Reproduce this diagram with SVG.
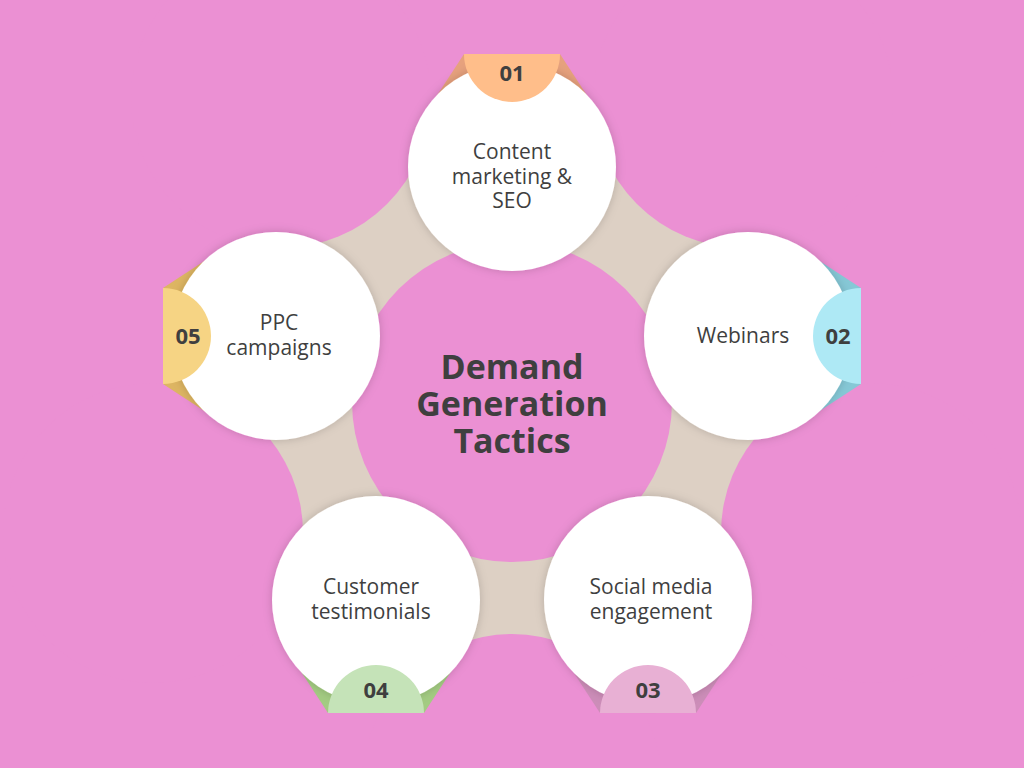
<svg xmlns="http://www.w3.org/2000/svg" width="1024" height="768" viewBox="0 0 1024 768">
<defs>
<style>
.bg{fill:#EB90D3}
.ring{fill:#DDD0C4}
.hole{fill:#EB90D3}
.node{fill:#FFFFFF;filter:url(#sh)}
.lbl{font-family:"Open Sans","Noto Sans",sans-serif;font-size:21px;fill:#3F3F3F;text-anchor:middle}
.num{font-family:"Open Sans","Noto Sans",sans-serif;font-size:22px;font-weight:bold;fill:#3F3F3F;text-anchor:middle}
.title{font-family:"Open Sans","Noto Sans",sans-serif;font-size:34px;font-weight:bold;fill:#3F3F3F;text-anchor:middle}
</style>
<filter id="sh" x="-20%" y="-20%" width="140%" height="140%">
<feDropShadow dx="0" dy="0" stdDeviation="5" flood-color="#000" flood-opacity="0.18"/>
</filter>
<polygon id="trap" points="-48,-113 48,-113 78,-67 -78,-67"/>
<path id="semi" d="M-48,-113 A48,48 0 0 0 48,-113 Z"/>
</defs>
<rect class="bg" x="0" y="0" width="1024" height="768"/>
<g id="connectors">
<circle class="ring" cx="512" cy="402" r="272"/>
<circle class="hole" cx="512" cy="402" r="160"/>
<circle class="hole" cx="743" cy="98" r="150"/>
<circle class="hole" cx="871" cy="533" r="150"/>
<circle class="hole" cx="512" cy="784" r="150"/>
<circle class="hole" cx="153" cy="533" r="150"/>
<circle class="hole" cx="281" cy="98" r="150"/>
</g>
<g id="title">
<text class="title" x="512" y="379">Demand</text>
<text class="title" x="512" y="416">Generation</text>
<text class="title" x="512" y="453">Tactics</text>
</g>
<g id="node1" transform="translate(512,167)">
<use href="#trap" fill="#E6A17D"/>
<circle class="node" cx="0" cy="0" r="104"/>
<use href="#semi" fill="#FFBE8A"/>
<text class="num" x="0" y="-86">01</text>
<text class="lbl" x="0" y="-8">Content</text>
<text class="lbl" x="0" y="17">marketing &amp;</text>
<text class="lbl" x="0" y="41">SEO</text>
</g>
<g id="node2" transform="translate(748,336)">
<use href="#trap" fill="#86C8D6" transform="rotate(90)"/>
<circle class="node" cx="0" cy="0" r="104"/>
<use href="#semi" fill="#AEE9F5" transform="rotate(90)"/>
<text class="num" x="90" y="8">02</text>
<text class="lbl" x="-5" y="7">Webinars</text>
</g>
<g id="node3" transform="translate(648,600)">
<use href="#trap" fill="#CC8DB8" transform="rotate(180)"/>
<circle class="node" cx="0" cy="0" r="104"/>
<use href="#semi" fill="#E8B0D4" transform="rotate(180)"/>
<text class="num" x="0" y="98">03</text>
<text class="lbl" x="3" y="-6">Social media</text>
<text class="lbl" x="3" y="19">engagement</text>
</g>
<g id="node4" transform="translate(376,600)">
<use href="#trap" fill="#A3CB82" transform="rotate(180)"/>
<circle class="node" cx="0" cy="0" r="104"/>
<use href="#semi" fill="#C5E3B8" transform="rotate(180)"/>
<text class="num" x="0" y="98">04</text>
<text class="lbl" x="-5" y="-6">Customer</text>
<text class="lbl" x="-5" y="19">testimonials</text>
</g>
<g id="node5" transform="translate(276,336)">
<use href="#trap" fill="#DDB562" transform="rotate(-90)"/>
<circle class="node" cx="0" cy="0" r="104"/>
<use href="#semi" fill="#F6D484" transform="rotate(-90)"/>
<text class="num" x="-88" y="8">05</text>
<text class="lbl" x="3" y="-6">PPC</text>
<text class="lbl" x="3" y="19">campaigns</text>
</g>
</svg>
